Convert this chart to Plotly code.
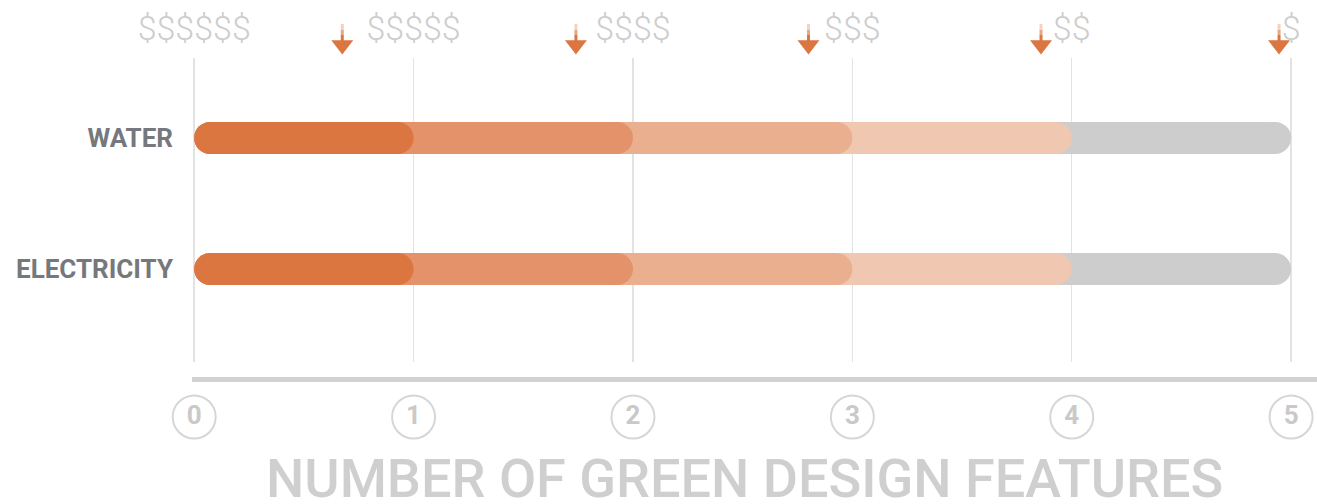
import plotly.graph_objects as go

# ---- data ----
categories = ["WATER", "ELECTRICITY"]
levels = [5, 4, 3, 2, 1]                      # stacked rounded segments, longest first
level_colors = ["#CDCDCD", "#F0C8B1", "#EAAF8E", "#E3926A", "#DB7640"]
feature_ticks = [0, 1, 2, 3, 4, 5]
feature_labels = ["0", "1", "2", "3", "4", "5"]
price_labels = ["$$$$$$", "$$$$$", "$$$$", "$$$", "$$", "$"]
arrow_x = [0.675, 1.74, 2.80, 3.86, 4.945]
x_title = "NUMBER OF GREEN DESIGN FEATURES"

W, H = 1317, 504
ML = 192
x_range = [-0.01, 5.118]
px_per_unit = (W - ML) / (x_range[1] - x_range[0])
bar_px = 32
r = (bar_px / 2) / px_per_unit

ORANGE = "#DB7640"


def py(ref_px):
    """paper fraction for a pixel row measured from the top"""
    return 1 - ref_px / H


fig = go.Figure()

# rounded bars (stadium shapes): thick line + circle caps
for lvl, col in zip(levels, level_colors):
    xs, ys = [], []
    for c in categories:
        xs += [0 + r, lvl - r, None]
        ys += [c, c, None]
    fig.add_trace(go.Scatter(
        x=xs, y=ys, mode="lines+markers",
        line=dict(color=col, width=bar_px),
        marker=dict(color=col, size=bar_px, line=dict(width=0)),
        hoverinfo="skip", showlegend=False, xaxis="x", yaxis="y"))

# circled feature numbers (bottom band)
fig.add_trace(go.Scatter(
    x=feature_ticks, y=[0.5] * len(feature_ticks), mode="markers+text",
    text=feature_labels, textposition="middle center",
    textfont=dict(family="Roboto", size=26, color="#C9C9C9", weight="bold"),
    marker=dict(symbol="circle-open", size=43, color="#D6D6D6",
                line=dict(width=2, color="#D6D6D6")),
    hoverinfo="skip", showlegend=False, xaxis="x2", yaxis="y2", cliponaxis=False))

# price labels (top band, y in pixel rows from the top)
fig.add_trace(go.Scatter(
    x=feature_ticks, y=[31] * len(feature_ticks), mode="text",
    text=price_labels, textposition="middle center",
    textfont=dict(family="Roboto", size=34, color="#CDCDCD", weight=300),
    hoverinfo="skip", showlegend=False, xaxis="x3", yaxis="y3", cliponaxis=False))

# arrow stems (fading toward the top)
stem_parts = [(24, 30, "#F3D2BF"), (30, 35, "#E9A680"), (35, 45, ORANGE)]
for y0, y1, col in stem_parts:
    sx, sy = [], []
    for a in arrow_x:
        sx += [a, a, None]
        sy += [y0, y1, None]
    fig.add_trace(go.Scatter(
        x=sx, y=sy, mode="lines", line=dict(color=col, width=3),
        hoverinfo="skip", showlegend=False, xaxis="x3", yaxis="y3", cliponaxis=False))
# arrow heads
fig.add_trace(go.Scatter(
    x=arrow_x, y=[45] * len(arrow_x), mode="markers",
    marker=dict(symbol="triangle-down", size=19, color=ORANGE, line=dict(width=0)),
    hoverinfo="skip", showlegend=False, xaxis="x3", yaxis="y3", cliponaxis=False))

main_top = py(58)
main_bot = py(362)

fig.update_layout(
    width=W, height=H,
    margin=dict(l=ML, r=0, t=0, b=0),
    paper_bgcolor="white", plot_bgcolor="white",
    xaxis=dict(range=x_range, domain=[0, 1], anchor="free", position=py(378.5),
               showgrid=True, gridcolor="#E3E3E3", gridwidth=1.5,
               tickmode="array", tickvals=feature_ticks, showticklabels=False,
               ticks="", zeroline=False, showline=True, linecolor="#D2D2D2",
               linewidth=5, fixedrange=True),
    yaxis=dict(domain=[main_bot, main_top], type="category",
               categoryorder="array", categoryarray=categories[::-1],
               range=[-0.71, 1.61], showgrid=False, zeroline=False,
               showline=False, ticks="", ticklabelstandoff=18,
               tickfont=dict(family="Roboto", size=26, color="#75787C", weight="bold")),
    xaxis2=dict(range=x_range, domain=[0, 1], anchor="y2", visible=False),
    yaxis2=dict(domain=[py(447), py(387)], range=[0, 1], visible=False),
    xaxis3=dict(range=x_range, domain=[0, 1], anchor="y3", visible=False),
    yaxis3=dict(domain=[main_top, 1], range=[58, 0], visible=False),
    annotations=[dict(
        text=x_title, xref="paper", yref="paper",
        x=(744 - ML) / (W - ML), y=py(478),
        xanchor="center", yanchor="middle", showarrow=False,
        font=dict(family="Roboto", size=54, color="#CFCFCF", weight=500))],
)

fig.write_html(
    "out.html",
    config={"displayModeBar": False, "staticPlot": True},
    post_script="document.body.style.margin='0';document.body.style.overflow='hidden';",
)
